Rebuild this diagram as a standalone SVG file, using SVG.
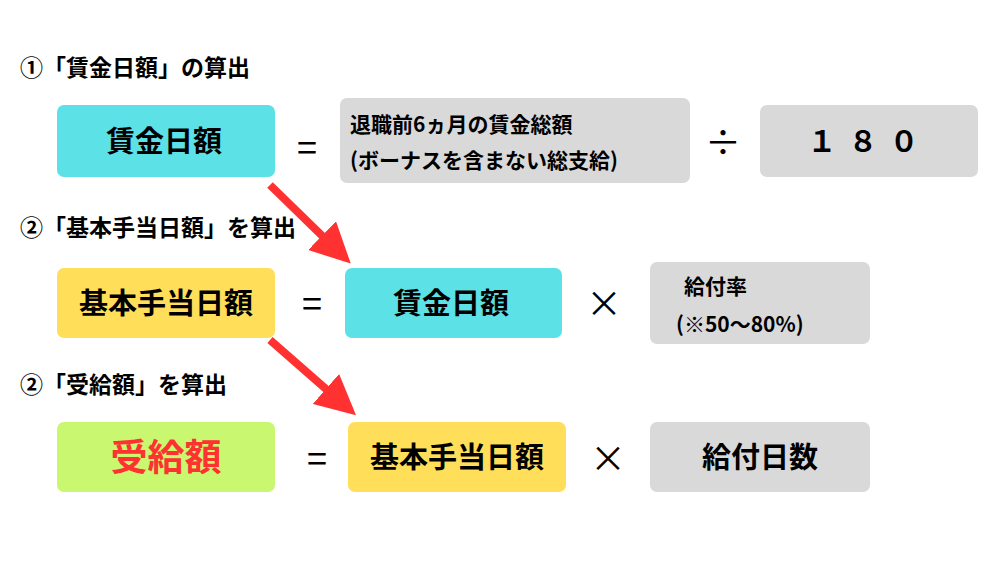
<svg xmlns="http://www.w3.org/2000/svg" width="1000" height="563" viewBox="0 0 1000 563">
<defs>
<style>
text{font-family:"Noto Sans CJK JP","Noto Sans",sans-serif;font-weight:bold;fill:#000}
.h{font-size:23px}
.b{font-size:29px;text-anchor:middle}
.s{font-size:21px}
.op{font-size:36px;text-anchor:middle;font-weight:normal}
.cy{fill:#5ce1e6}.ye{fill:#ffde59}.gr{fill:#c9f76f}.gy{fill:#d9d9d9}
</style>
<marker id="ah" viewBox="0 0 10 10" refX="8" refY="5" markerWidth="5" markerHeight="5" orient="auto"><path d="M0,0L10,5L0,10z" fill="#ff3131"/></marker>
</defs>
<rect width="1000" height="563" fill="#fff"/>
<text class="h" x="20" y="76">①「賃金日額」の算出</text>
<text class="h" x="20" y="236">②「基本手当日額」を算出</text>
<text class="h" x="20" y="393">②「受給額」を算出</text>
<g id="n1"><rect class="cy" x="57" y="105" width="218" height="72" rx="7"/><text class="b" x="164" y="152">賃金日額</text></g>
<text class="op" x="307" y="161">=</text>
<g id="n2"><rect class="gy" x="340" y="98" width="350" height="85" rx="7"/><text class="s" x="350" y="132">退職前6ヵ月の賃金総額</text><text class="s" x="350" y="168">(ボーナスを含まない総支給)</text></g>
<text class="op" x="723" y="156">÷</text>
<g id="n3"><rect class="gy" x="760" y="105" width="218" height="72" rx="7"/><text class="b" x="869" y="152" letter-spacing="12">１８０</text></g>
<g id="n4"><rect class="ye" x="57" y="268" width="218" height="70" rx="7"/><text class="b" x="166" y="314">基本手当日額</text></g>
<text class="op" x="312" y="317">=</text>
<g id="n5"><rect class="cy" x="345" y="268" width="217" height="70" rx="7"/><text class="b" x="451" y="314">賃金日額</text></g>
<text class="op" x="604" y="317">×</text>
<g id="n6"><rect class="gy" x="650" y="262" width="220" height="82" rx="7"/><text class="s" x="684" y="294">給付率</text><text class="s" x="676" y="332">(※50～80%)</text></g>
<g id="n7"><rect class="gr" x="57" y="422" width="218" height="70" rx="7"/><text class="b" x="166" y="471" style="font-size:37px;fill:#ff3131">受給額</text></g>
<text class="op" x="317" y="472">=</text>
<g id="n8"><rect class="ye" x="348" y="422" width="218" height="70" rx="7"/><text class="b" x="457" y="468">基本手当日額</text></g>
<text class="op" x="608" y="472">×</text>
<g id="n9"><rect class="gy" x="650" y="422" width="220" height="70" rx="7"/><text class="b" x="760" y="468">給付日数</text></g>
<g id="connectors" stroke="#ff3131" stroke-width="8" fill="none">
<line x1="270" y1="185" x2="345" y2="258" marker-end="url(#ah)"/>
<line x1="270" y1="340" x2="350" y2="410" marker-end="url(#ah)"/>
</g>
</svg>
